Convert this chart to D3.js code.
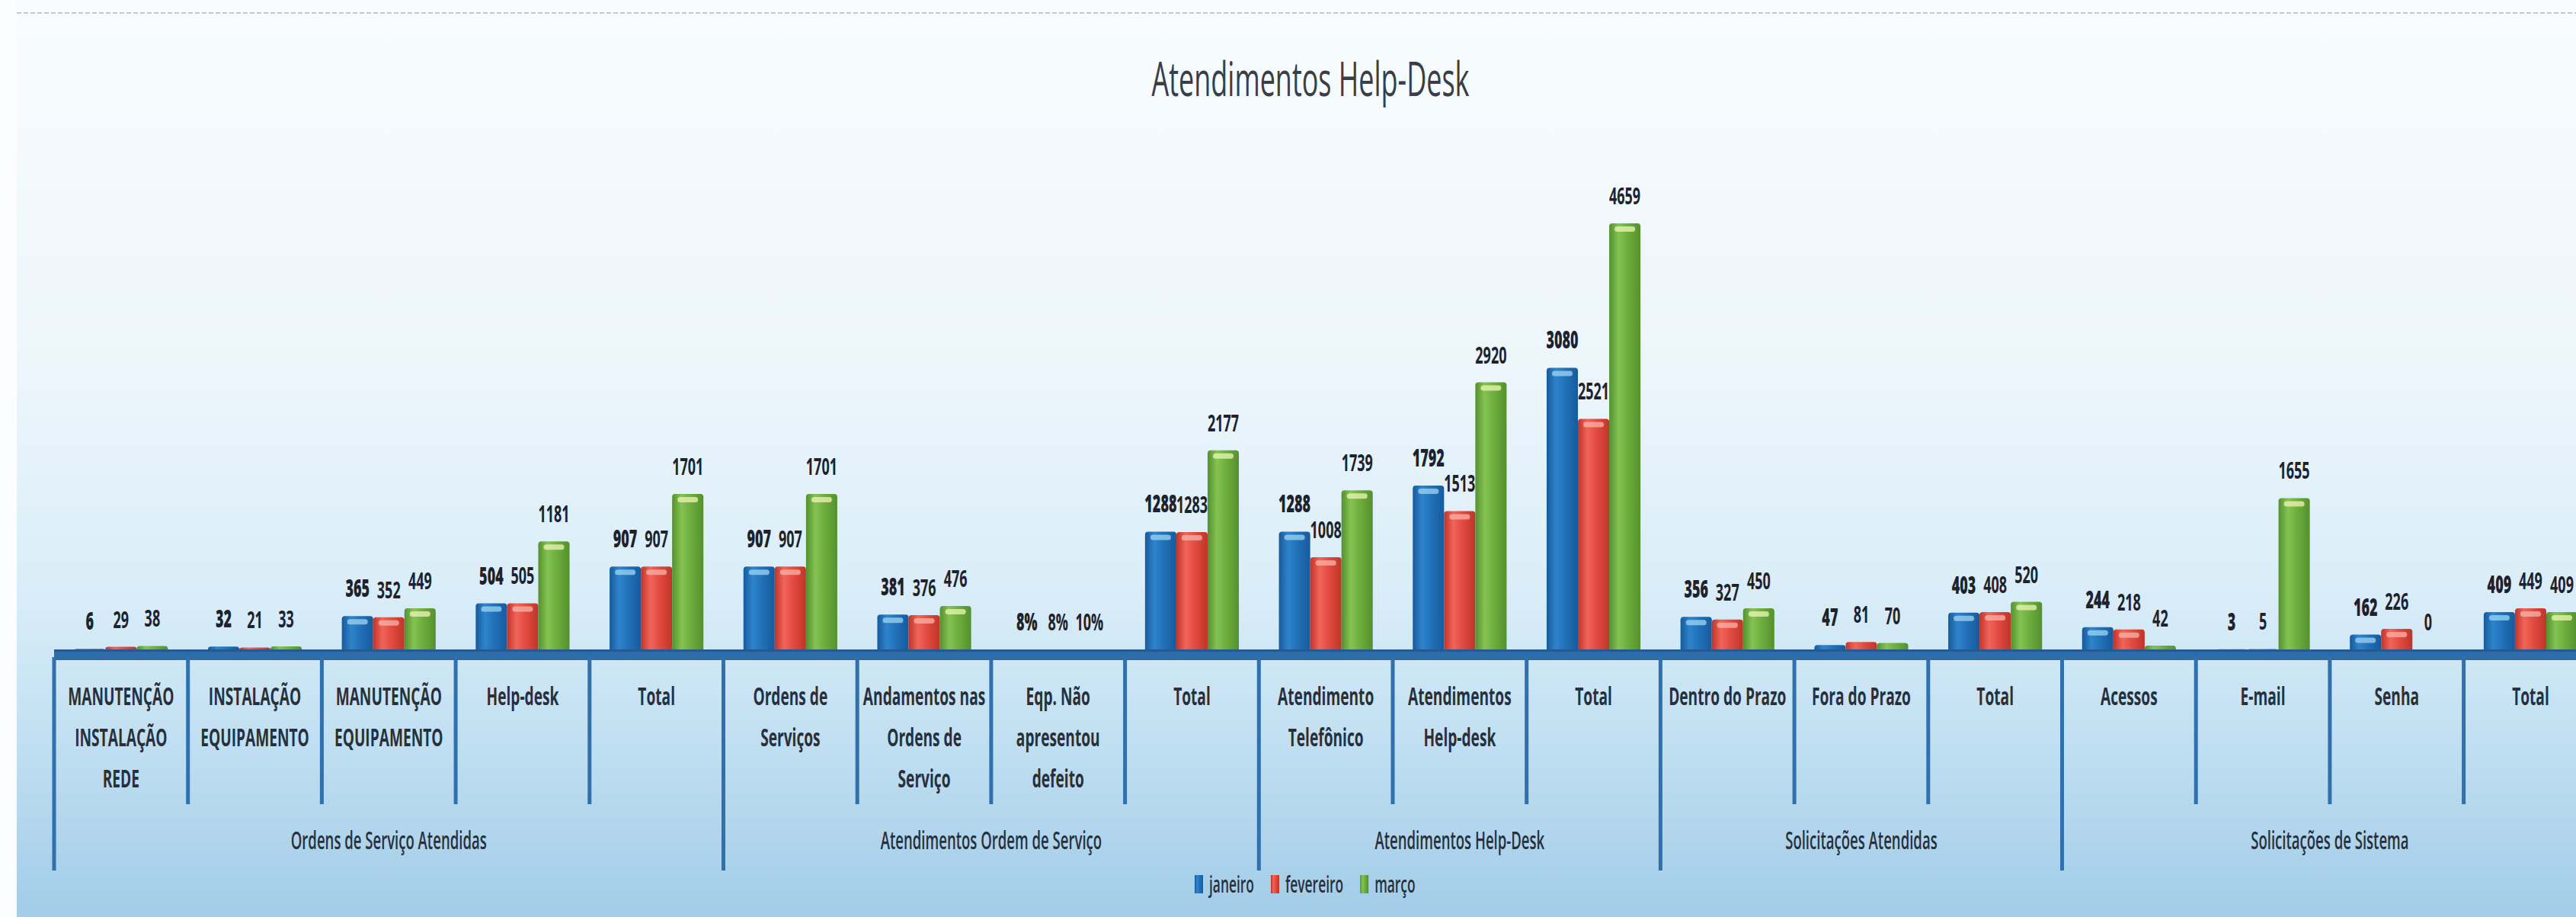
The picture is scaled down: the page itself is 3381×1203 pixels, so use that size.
<!DOCTYPE html>
<html>
<head>
<meta charset="utf-8">
<script src="https://cdn.jsdelivr.net/npm/d3@7"></script>
<style>
  html, body { margin: 0; padding: 0; background: #ffffff; overflow: hidden; }
  svg { display: block; }
</style>
</head>
<body>
<svg id="chart" width="3381" height="1203"></svg>
<script>
// ---------------- DATA ----------------
const title = "Atendimentos Help-Desk";
const seriesNames = ["janeiro", "fevereiro", "março"];
const groups = [
  "Ordens de Serviço Atendidas",
  "Atendimentos Ordem de Serviço",
  "Atendimentos Help-Desk",
  "Solicitações Atendidas",
  "Solicitações de Sistema"
];
const categories = [
  ["MANUTENÇÃO", "INSTALAÇÃO", "REDE"],
  ["INSTALAÇÃO", "EQUIPAMENTO"],
  ["MANUTENÇÃO", "EQUIPAMENTO"],
  ["Help-desk"],
  ["Total"],
  ["Ordens de", "Serviços"],
  ["Andamentos nas", "Ordens de", "Serviço"],
  ["Eqp. Não", "apresentou", "defeito"],
  ["Total"],
  ["Atendimento", "Telefônico"],
  ["Atendimentos", "Help-desk"],
  ["Total"],
  ["Dentro do Prazo"],
  ["Fora do Prazo"],
  ["Total"],
  ["Acessos"],
  ["E-mail"],
  ["Senha"],
  ["Total"]
];
const categoryGroup = [0,0,0,0,0, 1,1,1,1, 2,2,2, 3,3,3, 4,4,4,4];
const percentCategory = [false,false,false,false,false, false,false,true,false, false,false,false, false,false,false, false,false,false,false];
const janeiro   = [6, 32, 365, 504, 907, 907, 381, 0.08, 1288, 1288, 1792, 3080, 356, 47, 403, 244, 3, 162, 409];
const fevereiro = [29, 21, 352, 505, 907, 907, 376, 0.08, 1283, 1008, 1513, 2521, 327, 81, 408, 218, 5, 226, 449];
const marco     = [38, 33, 449, 1181, 1701, 1701, 476, 0.10, 2177, 1739, 2920, 4659, 450, 70, 520, 42, 1655, 0, 409];
const seriesValues = [janeiro, fevereiro, marco];

// ---------------- STYLE ----------------
const W = 3381, H = 1203;
const SX = 0.58; // horizontal compression of the text, as in the source
const FONT = "'Open Sans', 'Noto Sans', sans-serif";
const colors = {
  janeiro:   {dark: "#175a9c", mid: "#2e84cc", light: "#9fd6f3", base: "#2170b8"},
  fevereiro: {dark: "#bf3429", mid: "#f0645a", light: "#f7b4aa", base: "#e24a3f"},
  "março":   {dark: "#54902e", mid: "#84c352", light: "#eef6b6", base: "#6dad3d"}
};

const svg = d3.select("#chart");
const defs = svg.append("defs");

// background gradient
const bg = defs.append("linearGradient").attr("id", "bg").attr("x1", 0).attr("y1", 0).attr("x2", 0).attr("y2", 1);
[[0, "#f8fcfe"], [0.4, "#edf6fb"], [0.65, "#d9edf8"], [0.8, "#c2e0f2"], [1, "#a2cce8"]]
  .forEach(([o, c]) => bg.append("stop").attr("offset", o).attr("stop-color", c));
svg.append("rect").attr("width", W).attr("height", H).attr("fill", "url(#bg)");
svg.append("rect").attr("x", 0).attr("y", 0).attr("width", 22).attr("height", H).attr("fill", "#fbfdfe");
svg.append("line").attr("x1", 22).attr("x2", W).attr("y1", 17).attr("y2", 17)
  .attr("stroke", "#c3c8ce").attr("stroke-width", 2).attr("stroke-dasharray", "6,3");

// bar gradients
seriesNames.forEach((s, i) => {
  const g = defs.append("linearGradient").attr("id", "grad" + i).attr("x1", 0).attr("x2", 1).attr("y1", 0).attr("y2", 0);
  [[0, colors[s].dark], [0.3, colors[s].mid], [0.6, colors[s].base], [1, colors[s].dark]]
    .forEach(([o, c]) => g.append("stop").attr("offset", o).attr("stop-color", c));
});

// ---------------- SCALES ----------------
const catStep = 175.7;
const left = 71;
const x0 = d3.scaleBand().domain(d3.range(categories.length))
  .range([left, left + categories.length * catStep]).padding(0);
const x1 = d3.scaleBand().domain(seriesNames).range([0, x0.bandwidth()])
  .paddingInner(0).paddingOuter(0.64);
const baseY = 855;
const y = d3.scaleLinear().domain([0, 5000]).range([baseY, baseY - 600]);

// helper for compressed text
function ctext(parent, x, yy, str, size, weight, color, anchor) {
  const g = parent.append("g").attr("transform", `translate(${x},${yy}) scale(${SX},1)`);
  return g.append("text").attr("x", 0).attr("y", 0)
    .attr("text-anchor", anchor || "middle")
    .attr("font-family", FONT).attr("font-size", size).attr("font-weight", weight)
    .attr("fill", color).text(str);
}

// ---------------- TITLE ----------------
ctext(svg, 1720, 126, title, 62, 500, "#3a3e46");

// ---------------- BARS ----------------
const data = [];
categories.forEach((c, ci) => {
  seriesNames.forEach((s, si) => {
    data.push({ci, s, si, v: seriesValues[si][ci]});
  });
});

const bars = svg.append("g");
bars.selectAll("rect.bar").data(data).join("rect").attr("class", "bar")
  .attr("x", d => x0(d.ci) + x1(d.s))
  .attr("y", d => y(d.v) - 3)
  .attr("width", x1.bandwidth())
  .attr("height", d => baseY - y(d.v) + 3)
  .attr("rx", 4)
  .attr("fill", d => `url(#grad${d.si})`);
bars.selectAll("rect.cap").data(data.filter(d => baseY - y(d.v) > 12)).join("rect").attr("class", "cap")
  .attr("x", d => x0(d.ci) + x1(d.s) + 7)
  .attr("y", d => y(d.v) + 1)
  .attr("width", x1.bandwidth() - 14)
  .attr("height", 7)
  .attr("rx", 3.5)
  .attr("fill", d => colors[d.s].light)
  .attr("opacity", 0.75);

// ---------------- AXIS ----------------
svg.append("rect").attr("x", left).attr("y", 852).attr("width", W - left).attr("height", 14).attr("fill", "#2d6ca8");
svg.append("rect").attr("x", left).attr("y", 852).attr("width", W - left).attr("height", 3).attr("fill", "#235a92");

const boundaries = d3.range(categories.length + 1);
boundaries.forEach(i => {
  const isGroupEdge = i === 0 || i === categories.length || categoryGroup[i] !== categoryGroup[i - 1];
  const xx = i < categories.length ? x0(i) : x0(categories.length - 1) + x0.bandwidth();
  svg.append("line").attr("x1", xx).attr("x2", xx).attr("y1", 862).attr("y2", isGroupEdge ? 1142 : 1055)
    .attr("stroke", "#2f70ad").attr("stroke-width", 5);
});

// category labels
categories.forEach((lines, ci) => {
  const cx = x0(ci) + x0.bandwidth() / 2;
  lines.forEach((ln, li) => {
    ctext(svg, cx, 925 + li * 54, ln, 33, 700, "#27303b");
  });
});

// group labels
groups.forEach((gname, gi) => {
  const idx = d3.range(categories.length).filter(i => categoryGroup[i] === gi);
  const a = x0(idx[0]), b = x0(idx[idx.length - 1]) + x0.bandwidth();
  ctext(svg, (a + b) / 2, 1114, gname, 32, 600, "#27303b");
});

// ---------------- DATA LABELS ----------------
const fmtPct = d3.format(".0%");
data.forEach(d => {
  const label = percentCategory[d.ci] ? fmtPct(d.v) : String(d.v);
  ctext(svg, x0(d.ci) + x1(d.s) + x1.bandwidth() / 2, y(d.v) - 28, label, 31,
        d.si === 0 ? 800 : 700, "#1d222c");
});

// ---------------- LEGEND ----------------
let lx = 1568;
seriesNames.forEach((s, si) => {
  svg.append("rect").attr("x", lx).attr("y", 1148).attr("width", 11).attr("height", 24)
    .attr("fill", `url(#grad${si})`);
  const t = ctext(svg, lx + 19, 1171, s, 30, 600, "#27303b", "start");
  const w = t.node().getComputedTextLength() * SX;
  lx += 19 + w + 22;
});
</script>
</body>
</html>
